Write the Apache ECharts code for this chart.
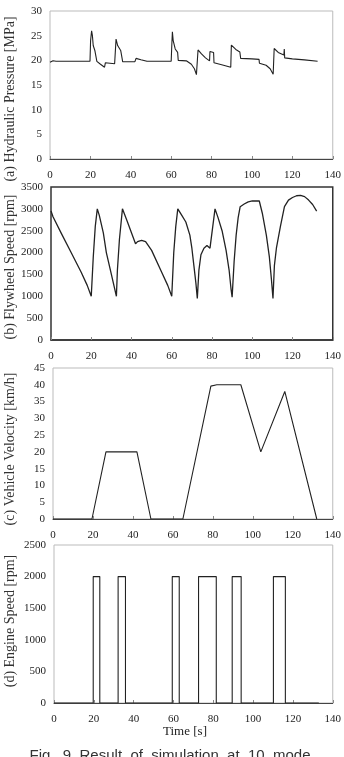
<!DOCTYPE html>
<html>
<head>
<meta charset="utf-8">
<script src="https://cdn.jsdelivr.net/npm/echarts@6/dist/echarts.min.js"></script>
<style>
  html, body { margin: 0; padding: 0; background: #fff; }
  #main { width: 344px; height: 757px; }
</style>
</head>
<body>
<div id="main"></div>
<script>
// (a) hydraulic pressure [s, MPa]
const pressureData = [
  [0, 19.6], [0.5, 20], [1.5, 19.9], [3, 19.8], [19.8, 19.8], [20.1, 24], [20.6, 26],
  [21, 25], [21.4, 23], [22.2, 22], [23, 21.7], [23.2, 19.8], [25, 19.2], [27, 18.6],
  [27.4, 19.5], [28, 19.5], [32, 19.3], [32.4, 19.2], [32.7, 24.3], [33.5, 23],
  [35, 22], [35.8, 21.8], [36, 19.7], [42, 19.7], [42.6, 20.4], [45, 20.1], [48, 19.8],
  [60, 19.8], [60.3, 23], [60.6, 25.8], [61, 24], [62, 22.3], [63.2, 21.6], [63.5, 20],
  [67.5, 19.9], [70, 19.2], [71.5, 18.3], [72.5, 17.1], [73.3, 22.1], [75, 21.3],
  [77, 20.5], [79, 19.9], [79.2, 21.8], [81, 21.6], [81.2, 19.5], [85, 19.1], [89.5, 18.6],
  [89.8, 23.1], [92, 22.2], [94, 21.7], [94.2, 21.8], [94.4, 20.4], [100, 20.3],
  [103.5, 20.2], [103.7, 19.4], [107, 19], [109, 18.3], [110.5, 17.2], [111, 22.4],
  [113, 21.6], [115.8, 21.1], [116, 22.3], [116.2, 20.5], [120, 20.3], [126, 20.1], [132.5, 19.8]
];

// (b) flywheel speed [s, rpm]
const flywheelData = [
  [0, 2950], [1, 2820], [5, 2450], [10, 2000], [15, 1550], [18, 1250], [20, 1000],
  [21, 1900], [22, 2600], [23, 3000], [24, 2850], [26, 2450], [27.5, 2000], [30, 1500],
  [32.5, 1000], [33, 1600], [34, 2300], [35.5, 3000], [38, 2700], [42, 2200], [43, 2250],
  [45, 2280], [47, 2250], [50, 2050], [55, 1550], [58, 1250], [60, 1000], [61, 2000],
  [62, 2600], [63, 3000], [65, 2850], [67, 2700], [69, 2400], [70, 2100], [71, 1700],
  [72, 1300], [72.7, 950], [73.5, 1600], [74.5, 1950], [76, 2100], [77.5, 2160],
  [79, 2100], [81.5, 3000], [83, 2800], [85, 2500], [87, 2050], [88.5, 1600], [89.5, 1150],
  [90, 980], [91, 1800], [92, 2400], [93, 2800], [94, 3050], [96, 3110], [98, 3160],
  [100, 3180], [103.5, 3180], [105, 2900], [107, 2400], [108.5, 1900], [109.5, 1400],
  [110.3, 950], [111, 1700], [112, 2100], [114, 2600], [116, 3050], [118, 3200],
  [120, 3260], [122, 3300], [124, 3310], [126, 3280], [128, 3200], [130, 3100], [132, 2950]
];

// (c) vehicle velocity [s, km/h]
const velocityData = [
  [0, 0], [19.5, 0], [26.5, 20], [42, 20], [49, 0], [65, 0], [79, 39.6], [82, 40],
  [94, 40], [104, 20], [116, 38], [132, 0]
];

// (d) engine on/off times [s], speed when on [rpm]
const engineOn = [19.7, 32.2, 59.4, 72.6, 89.5, 110.2];
const engineOff = [23, 35.9, 62.9, 81.5, 94, 116.2];
const engineRpm = 2000;
const engineEnd = 133;

const xTicks = [0, 20, 40, 60, 80, 100, 120, 140];

const engineData = [[0, 0]];
engineOn.forEach((t, i) => {
  engineData.push([t, 0], [t, engineRpm], [engineOff[i], engineRpm], [engineOff[i], 0]);
});
engineData.push([engineEnd, 0]);

const serif = '"Liberation Serif", "DejaVu Serif", serif';

const grids = [
  { left: 50, top: 11, width: 284, height: 148 },
  { left: 51, top: 187, width: 282, height: 153 },
  { left: 53, top: 368, width: 280, height: 151 },
  { left: 54, top: 545, width: 279, height: 158 }
];
const yRanges = [
  { max: 30, interval: 5 },
  { max: 3500, interval: 500 },
  { max: 45, interval: 5 },
  { max: 2500, interval: 500 }
];
const yTitles = [
  ['(a) Hydraulic Pressure [MPa]', 99],
  ['(b) Flywheel Speed [rpm]', 267],
  ['(c) Vehicle Velocity [km/h]', 449],
  ['(d) Engine Speed [rpm]', 621]
];

const chart = echarts.init(document.getElementById('main'));
chart.setOption({
  animation: false,
  backgroundColor: '#fff',
  grid: grids.map((g, i) => Object.assign({
    show: true,
    borderColor: i === 1 ? '#333' : '#bbb',
    borderWidth: i === 1 ? 1.5 : 1,
    backgroundColor: 'transparent'
  }, g)),
  xAxis: grids.map((g, i) => ({
    type: 'value',
    gridIndex: i,
    min: xTicks[0],
    max: xTicks[xTicks.length - 1],
    interval: 20,
    splitLine: { show: false },
    axisLine: { show: true, lineStyle: { color: i === 1 ? '#333' : '#444', width: i === 1 ? 1.5 : 1 } },
    axisTick: { show: true, inside: true, length: 3, lineStyle: { color: '#888' } },
    axisLabel: { fontFamily: serif, fontSize: 11, color: '#222', margin: 11 }
  })),
  yAxis: grids.map((g, i) => ({
    type: 'value',
    gridIndex: i,
    min: 0,
    max: yRanges[i].max,
    interval: yRanges[i].interval,
    splitLine: { show: false },
    axisLine: { show: false },
    axisTick: { show: false },
    axisLabel: { fontFamily: serif, fontSize: 11, color: '#222', margin: 8, formatter: v => String(v) }
  })),
  series: [pressureData, flywheelData, velocityData, engineData].map((d, i) => ({
    type: 'line',
    xAxisIndex: i,
    yAxisIndex: i,
    data: d,
    showSymbol: false,
    lineStyle: { color: '#222', width: i === 1 ? 1.3 : 1.1 }
  })),
  graphic: yTitles.map(([text, cy]) => ({
    type: 'text',
    x: 10,
    y: cy,
    rotation: Math.PI / 2,
    style: {
      text: text,
      fontFamily: serif,
      fontSize: 14,
      fill: '#333',
      textAlign: 'center',
      textVerticalAlign: 'middle'
    }
  })).concat([
    {
      type: 'text',
      x: 185,
      y: 732,
      style: {
        text: 'Time [s]',
        fontFamily: serif,
        fontSize: 13,
        fill: '#222',
        textAlign: 'center',
        textVerticalAlign: 'middle'
      }
    },
    {
      type: 'text',
      x: 170,
      y: 748,
      style: {
        text: 'Fig.  9  Result  of  simulation  at  10  mode',
        fontFamily: '"Liberation Sans", Arial, sans-serif',
        fontSize: 15,
        fill: '#333',
        textAlign: 'center',
        textVerticalAlign: 'top'
      }
    }
  ])
});
</script>
</body>
</html>
